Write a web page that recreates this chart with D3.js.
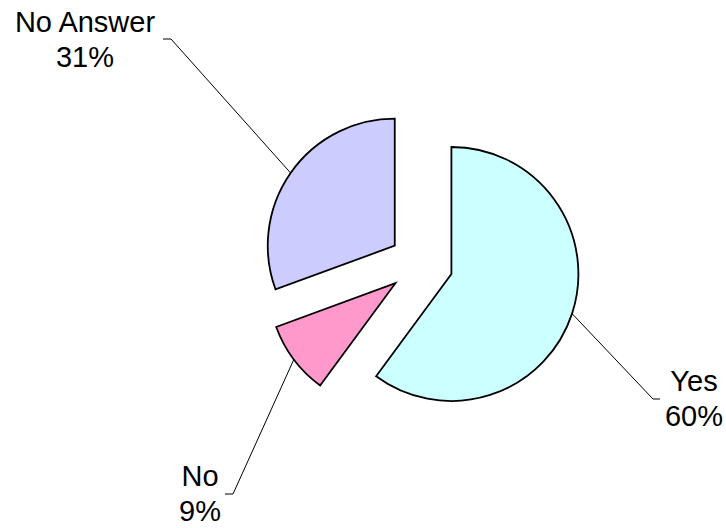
<!DOCTYPE html>
<html>
<head>
<meta charset="utf-8">
<script src="https://cdn.jsdelivr.net/npm/d3@7"></script>
<style>
  body { margin: 0; background: #fff; }
  svg text { font-family: "Liberation Sans", Arial, sans-serif; font-size: 29px; fill: #000; }
</style>
</head>
<body>
<svg id="chart" width="726" height="528"></svg>
<script>
// data
const categories = ["Yes", "No", "No Answer"];
const values = [60.1, 9.3, 30.6];
const percentLabels = ["60%", "9%", "31%"];
const colors = ["#CCFFFF", "#FF99CC", "#CCCCFF"];

// layout
const center = {x: 421, y: 264};
const radius = 127;
const explode = 32;
// where each label's leader line ends (elbow) and where the text sits
const labelLayout = [
    {elbow: [653, 399], tick: [660, 399], text: [694, 391], anchor: "middle"},
    {elbow: [233, 494], tick: [225, 494], text: [200, 486], anchor: "middle"},
    {elbow: [171, 39],  tick: [163, 39],  text: [85, 32],   anchor: "middle"}
];

const svg = d3.select("#chart");

const pie = d3.pie().sort(null).value(d => d.value);
const arc = d3.arc().innerRadius(0).outerRadius(radius);

const rows = categories.map((c, i) => ({name: c, value: values[i], label: percentLabels[i], color: colors[i]}));
const arcs = pie(rows);

function offset(d) {
    const mid = (d.startAngle + d.endAngle) / 2;
    return [explode * Math.sin(mid), -explode * Math.cos(mid)];
}

const g = svg.append("g").attr("transform", "translate(" + center.x + "," + center.y + ")");

// leader lines first, slices drawn on top
arcs.forEach(function(d, i) {
    const mid = (d.startAngle + d.endAngle) / 2;
    const o = offset(d);
    const edge = [center.x + o[0] + radius * Math.sin(mid), center.y + o[1] - radius * Math.cos(mid)];
    const L = labelLayout[i];
    svg.append("polyline")
        .attr("points", [edge, L.elbow, L.tick].map(p => p.join(",")).join(" "))
        .attr("fill", "none")
        .attr("stroke", "#000")
        .attr("stroke-width", 1);
});

g.selectAll("path.slice")
    .data(arcs)
    .enter().append("path")
    .attr("class", "slice")
    .attr("transform", d => "translate(" + offset(d).join(",") + ")")
    .attr("d", arc)
    .attr("fill", d => d.data.color)
    .attr("stroke", "#000")
    .attr("stroke-width", 1.8)
    .attr("stroke-linejoin", "miter");

arcs.forEach(function(d, i) {
    const L = labelLayout[i];
    const t = svg.append("text")
        .attr("x", L.text[0])
        .attr("y", L.text[1])
        .attr("text-anchor", L.anchor);
    t.append("tspan").attr("x", L.text[0]).text(d.data.name);
    t.append("tspan").attr("x", L.text[0]).attr("dy", 35).text(d.data.label);
});
</script>
</body>
</html>
